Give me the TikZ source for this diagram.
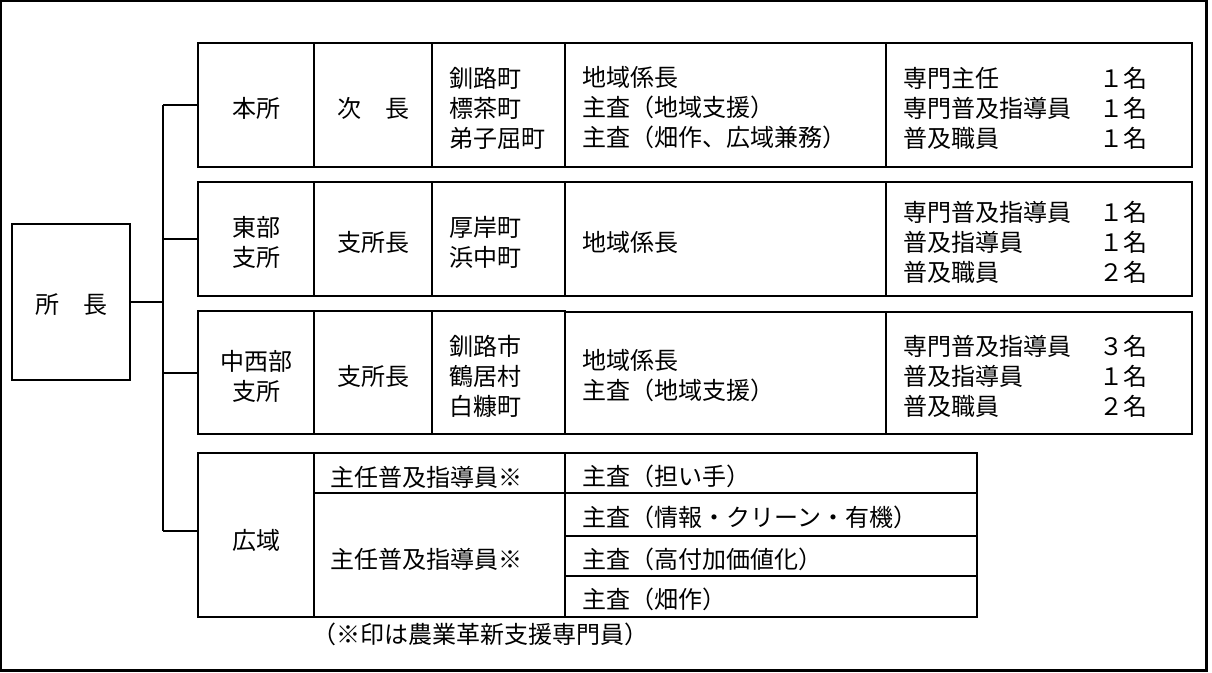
\documentclass[tikz,border=0pt]{standalone}
\usepackage{fontspec}
\newfontfamily\jp{Noto Sans CJK JP}
\usetikzlibrary{fit}
\begin{document}
\begin{tikzpicture}[x=1pt,y=-1pt,
  cell/.style={draw, line width=2pt, inner sep=0pt},
  txt/.style={inner sep=0pt, font=\jp\fontsize{24}{30}\selectfont, align=left},
  conn/.style={line width=2pt},
  frame/.style={line width=2.4pt}]
\useasboundingbox (0,0) rectangle (1212,672);
\draw[frame] (1.2,1.2) rectangle (1206.5,670.5);

% chief
\node[cell, fit={(12,224)(130,380)}] (chief) {};
\node[txt] (tchief) at (71,305) {所　長};

% row 1
\node[cell, fit={(198,43)(314,167)}] (r1a) {};
\node[cell, fit={(314,43)(432,167)}] (r1b) {};
\node[cell, fit={(432,43)(565,167)}] (r1c) {};
\node[cell, fit={(565,43)(886,167)}] (r1d) {};
\node[cell, fit={(886,43)(1192,167)}] (r1e) {};
\node[txt] (t1a) at (256,108) {本所};
\node[txt] (t1b) at (373,108) {次　長};
\node[txt, anchor=west] (t1c) at (449,108) {釧路町\\標茶町\\弟子屈町};
\node[txt, anchor=west] (t1d) at (582,108) {地域係長\\主査（地域支援）\\主査（畑作、広域兼務）};
\node[txt, anchor=west] (t1e) at (903,108) {専門主任\\専門普及指導員\\普及職員};
\node[txt, anchor=east, align=right] (n1e) at (1148,108) {１名\\１名\\１名};

% row 2
\node[cell, fit={(198,182)(314,296)}] (r2a) {};
\node[cell, fit={(314,182)(432,296)}] (r2b) {};
\node[cell, fit={(432,182)(565,296)}] (r2c) {};
\node[cell, fit={(565,182)(886,296)}] (r2d) {};
\node[cell, fit={(886,182)(1192,296)}] (r2e) {};
\node[txt, align=center] (t2a) at (256,242) {東部\\支所};
\node[txt] (t2b) at (373,242) {支所長};
\node[txt, anchor=west] (t2c) at (449,242) {厚岸町\\浜中町};
\node[txt, anchor=west] (t2d) at (582,242) {地域係長};
\node[txt, anchor=west] (t2e) at (903,242) {専門普及指導員\\普及指導員\\普及職員};
\node[txt, anchor=east, align=right] (n2e) at (1148,242) {１名\\１名\\２名};

% row 3
\node[cell, fit={(198,311)(314,434)}] (r3a) {};
\node[cell, fit={(314,311)(432,434)}] (r3b) {};
\node[cell, fit={(432,311)(565,434)}] (r3c) {};
\node[cell, fit={(565,312)(886,434)}] (r3d) {};
\node[cell, fit={(886,312)(1192,434)}] (r3e) {};
\node[txt, align=center] (t3a) at (256,376) {中西部\\支所};
\node[txt] (t3b) at (373,376) {支所長};
\node[txt, anchor=west] (t3c) at (449,376) {釧路市\\鶴居村\\白糠町};
\node[txt, anchor=west] (t3d) at (582,376) {地域係長\\主査（地域支援）};
\node[txt, anchor=west] (t3e) at (903,376) {専門普及指導員\\普及指導員\\普及職員};
\node[txt, anchor=east, align=right] (n3e) at (1148,376) {３名\\１名\\２名};

% row 4
\node[cell, fit={(198,453)(314,617)}] (r4a) {};
\node[cell, fit={(314,453)(565,493)}] (r4b1) {};
\node[cell, fit={(314,493)(565,617)}] (r4b2) {};
\node[cell, fit={(565,453)(977,493)}] (r4c1) {};
\node[cell, fit={(565,493)(977,536)}] (r4c2) {};
\node[cell, fit={(565,536)(977,576)}] (r4c3) {};
\node[cell, fit={(565,576)(977,617)}] (r4c4) {};
\node[txt] (t4a) at (256,540) {広域};
\node[txt, anchor=west] (t4b1) at (330,477) {主任普及指導員※};
\node[txt, anchor=west] (t4b2) at (330,559) {主任普及指導員※};
\node[txt, anchor=west] (t4c1) at (582,476) {主査（担い手）};
\node[txt, anchor=west] (t4c2) at (582,517) {主査（情報・クリーン・有機）};
\node[txt, anchor=west] (t4c3) at (582,559) {主査（高付加価値化）};
\node[txt, anchor=west] (t4c4) at (582,599) {主査（畑作）};
\node[txt] (note) at (480,634) {（※印は農業革新支援専門員）};

% connectors
\coordinate (trunk) at (163,0);
\coordinate (b4) at (198,531);
\draw[conn] (chief.east) -- (chief.east -| trunk);
\draw[conn] (r1a.west -| trunk) -- (b4 -| trunk);
\draw[conn] (r1a.west -| trunk) -- (r1a.west);
\draw[conn] (r2a.west -| trunk) -- (r2a.west);
\draw[conn] (r3a.west -| trunk) -- (r3a.west);
\draw[conn] (b4 -| trunk) -- (b4);
\end{tikzpicture}
\end{document}
